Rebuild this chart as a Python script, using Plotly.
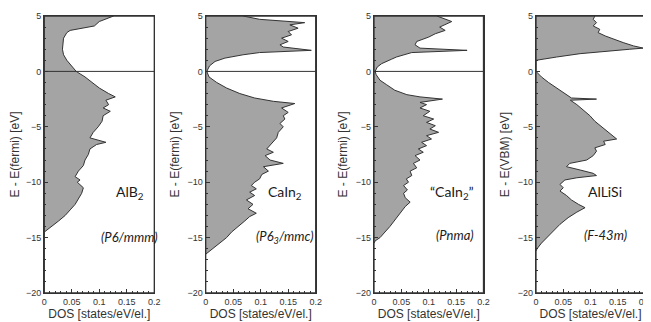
import plotly.graph_objects as go

# ---------------- data ----------------
panel_names = ["AlB<sub>2</sub>", "CaIn<sub>2</sub>", "\u201cCaIn<sub>2</sub>\u201d", "AlLiSi"]
space_groups = ["<i>(P6/mmm)</i>", "<i>(P6<sub>3</sub>/mmc)</i>", "<i>(Pnma)</i>", "<i>(F-43m)</i>"]
y_titles = ["E - E(fermi) [eV]", "E - E(fermi) [eV]", "E - E(fermi) [eV]", "E - E(VBM) [eV]"]
x_title = "DOS [states/eV/el.]"
x_ticks = [0, 0.05, 0.1, 0.15, 0.2]
x_ticklabels = ["0", "0.05", "0.1", "0.15", "0.2"]
y_ticks = [5, 0, -5, -10, -15, -20]

e_alb2 = [5, 4.5, 4.1, 3.7, 3.5, 3, 2, 1.5, 1, 0.5, 0, -0.5, -1, -1.5, -2, -2.3, -2.6, -3, -3.3,
          -3.6, -4, -4.5, -5, -5.5, -6, -6.4, -6.6, -7, -7.5, -8, -8.5, -9, -9.5, -9.8, -10,
          -10.5, -11, -11.5, -12, -12.5, -13, -13.5, -14, -14.5]
dos_alb2 = [0.126, 0.10, 0.091, 0.047, 0.041, 0.035, 0.033, 0.035, 0.041, 0.05, 0.058, 0.074,
            0.086, 0.10, 0.117, 0.129, 0.112, 0.117, 0.107, 0.12, 0.107, 0.105, 0.098, 0.089,
            0.083, 0.112, 0.095, 0.083, 0.08, 0.074, 0.071, 0.062, 0.056, 0.065, 0.06, 0.071,
            0.068, 0.062, 0.056, 0.047, 0.038, 0.026, 0.013, 0.0]

e_cain2 = [5, 4.7, 4.4, 4.2, 3.9, 3.6, 3.3, 3.0, 2.7, 2.4, 2.2, 1.9, 1.7, 1.5, 1.2, 0.9, 0.5, 0,
           -0.5, -1.0, -1.5, -2.0, -2.4, -2.7, -2.9, -3.3, -3.7, -4.0, -4.3, -4.7, -5.0, -5.5,
           -6.0, -6.5, -7.0, -7.3, -7.6, -8.0, -8.3, -8.6, -9.0, -9.3, -9.7, -10.0, -10.3,
           -10.6, -10.9, -11.2, -11.6, -12.0, -12.4, -12.8, -13.1, -13.5, -14.0, -14.5, -15.0,
           -15.5, -16.0, -16.5]
dos_cain2 = [0.068, 0.098, 0.18, 0.153, 0.168, 0.15, 0.156, 0.138, 0.15, 0.135, 0.141, 0.192,
             0.098, 0.068, 0.035, 0.017, 0.007, 0.002, 0.006, 0.02, 0.038, 0.062, 0.089, 0.123,
             0.162, 0.138, 0.15, 0.141, 0.144, 0.135, 0.141, 0.132, 0.129, 0.12, 0.111, 0.123,
             0.108, 0.117, 0.141, 0.105, 0.114, 0.102, 0.098, 0.089, 0.083, 0.092, 0.08, 0.089,
             0.074, 0.086, 0.077, 0.092, 0.08, 0.071, 0.059, 0.047, 0.038, 0.026, 0.014, 0.0]

e_pnma = [5, 4.5, 4.0, 3.7, 3.4, 3.1, 2.7, 2.4, 2.1, 1.9, 1.7, 1.3, 1.1, 0.7, 0.4, 0, -0.3, -0.8,
          -1.2, -1.7, -2.1, -2.3, -2.5, -2.8, -3.0, -3.3, -3.6, -4.0, -4.3, -4.6, -4.9, -5.2,
          -5.5, -5.8, -6.1, -6.4, -6.7, -7.0, -7.3, -7.6, -8.0, -8.3, -8.7, -9.0, -9.4, -9.7,
          -10.0, -10.3, -10.7, -11.0, -11.4, -11.8, -12.2, -12.6, -13.0, -13.5, -14.0, -14.5,
          -15.0, -15.3, -15.5]
dos_pnma = [0.115, 0.142, 0.12, 0.13, 0.112, 0.1, 0.078, 0.075, 0.084, 0.17, 0.069, 0.041, 0.032,
            0.014, 0.006, 0.002, 0.004, 0.011, 0.023, 0.038, 0.06, 0.084, 0.125, 0.084, 0.096,
            0.084, 0.102, 0.09, 0.109, 0.096, 0.112, 0.102, 0.118, 0.096, 0.105, 0.087, 0.096,
            0.081, 0.09, 0.075, 0.084, 0.072, 0.078, 0.066, 0.069, 0.059, 0.063, 0.054, 0.061,
            0.054, 0.057, 0.066, 0.057, 0.051, 0.045, 0.038, 0.029, 0.02, 0.011, 0.002, 0.0]

e_allisi = [5, 4.7, 4.4, 4.1, 3.8, 3.5, 3.2, 2.9, 2.6, 2.3, 2.1, 2.0, 1.8, 1.6, 1.3, 1.1, 1.0, 0,
            -0.5, -1.0, -1.5, -2.0, -2.4, -2.5, -2.6, -3.0, -3.5, -4.0, -4.5, -5.0, -5.5, -6.1,
            -6.3, -6.6, -6.9, -7.2, -7.6, -8.0, -8.3, -8.6, -8.9, -9.2, -9.4, -9.6, -9.8, -10.2,
            -10.5, -10.8, -11.2, -11.6, -12.0, -12.3, -12.7, -13.2, -13.8, -14.4, -15.0, -15.5,
            -16.0, -16.2]
dos_allisi = [0.108, 0.105, 0.111, 0.105, 0.117, 0.114, 0.127, 0.142, 0.16, 0.179, 0.197, 0.172,
              0.13, 0.081, 0.038, 0.013, 0.0, 0.0, 0.01, 0.023, 0.038, 0.053, 0.065, 0.111, 0.063,
              0.075, 0.087, 0.099, 0.108, 0.12, 0.133, 0.148, 0.124, 0.127, 0.108, 0.111, 0.105,
              0.093, 0.062, 0.056, 0.081, 0.105, 0.111, 0.075, 0.053, 0.044, 0.05, 0.044, 0.056,
              0.065, 0.078, 0.09, 0.075, 0.059, 0.044, 0.032, 0.02, 0.01, 0.002, 0.0]

series = [(dos_alb2, e_alb2), (dos_cain2, e_cain2), (dos_pnma, e_pnma), (dos_allisi, e_allisi)]
fermi_line = [True, True, True, False]

# ---------------- layout ----------------
W, H = 651, 322
OFF = 8  # page body margin compensation (screen px -> figure px)
x_px = [(44.3, 154.3), (205.7, 315.7), (374.0, 483.5), (536.0, 645.0)]
y_top_px, y_bot_px = 16, 293
name_pos = [(130, 192), (285, 192), (452, 192), (605, 191)]
sg_pos = [(129, 237), (285, 237), (455, 235), (605, 235)]


def fx(px):
    return (px - OFF) / W


def fy(py):
    return (H - (py - OFF)) / H


y_dom = [fy(y_bot_px), fy(y_top_px)]

fig = go.Figure()
axis_color = "#333333"
tick_font = dict(family="Liberation Sans, Arial, sans-serif", size=9, color="#333333")
title_font = dict(family="Liberation Sans, Arial, sans-serif", size=12, color="#333333")
label_font = dict(family="Lato, Open Sans, sans-serif", size=14, color="#1a1a1a")
sg_font = dict(family="Lato, Open Sans, sans-serif", size=13, color="#1a1a1a")

annotations = []
shapes = []
for i, ((xs, ys), (x0, x1)) in enumerate(zip(series, x_px)):
    n = i + 1
    xa = "x" if n == 1 else f"x{n}"
    ya = "y" if n == 1 else f"y{n}"
    fig.add_trace(go.Scatter(
        x=xs, y=ys, mode="lines", fill="tozerox",
        fillcolor="#a4a4a4", line=dict(color="#333333", width=1),
        xaxis=xa, yaxis=ya, showlegend=False, hoverinfo="skip"))
    xkey = "xaxis" if n == 1 else f"xaxis{n}"
    ykey = "yaxis" if n == 1 else f"yaxis{n}"
    fig.layout[xkey] = dict(
        domain=[fx(x0), fx(x1)], anchor=ya, range=[0, 0.2], automargin=False,
        tickvals=x_ticks, ticktext=x_ticklabels, ticks="inside", ticklen=4,
        tickcolor=axis_color, tickwidth=1,
        minor=dict(dtick=0.01, ticks="inside", ticklen=2, tickcolor=axis_color, tickwidth=1),
        showline=True, linecolor=axis_color, linewidth=1.3, mirror=True,
        showgrid=False, zeroline=False, tickfont=tick_font,
        title=dict(text=x_title, font=title_font, standoff=1), fixedrange=True)
    fig.layout[ykey] = dict(
        domain=y_dom, anchor=xa, range=[-20, 5], automargin=False,
        tickvals=y_ticks, ticks="inside", ticklen=4, tickcolor=axis_color, tickwidth=1,
        minor=dict(dtick=1, ticks="inside", ticklen=2, tickcolor=axis_color, tickwidth=1),
        showline=True, linecolor=axis_color, linewidth=1.3, mirror=True,
        showgrid=False, zeroline=False, tickfont=tick_font,
        title=dict(text=y_titles[i], font=title_font, standoff=5), fixedrange=True)
    if fermi_line[i]:
        shapes.append(dict(type="line", xref=xa, yref=ya, x0=0, x1=0.2, y0=0, y1=0,
                           line=dict(color="#333333", width=1)))
    shapes.append(dict(type="rect", xref=f"{xa} domain", yref=f"{ya} domain",
                       x0=0, x1=1, y0=0, y1=1, layer="above",
                       line=dict(color=axis_color, width=1.3)))
    nx, ny = name_pos[i]
    annotations.append(dict(text=panel_names[i], xref="paper", yref="paper",
                            x=fx(nx), y=fy(ny), showarrow=False,
                            xanchor="center", yanchor="middle", font=label_font))
    sx, sy = sg_pos[i]
    annotations.append(dict(text=space_groups[i], xref="paper", yref="paper",
                            x=fx(sx), y=fy(sy), showarrow=False,
                            xanchor="center", yanchor="middle", font=sg_font))

fig.update_layout(
    width=W, height=H, margin=dict(l=0, r=0, t=0, b=0, autoexpand=False),
    paper_bgcolor="white", plot_bgcolor="white",
    annotations=annotations, shapes=shapes)

fig.write_html("out.html")
